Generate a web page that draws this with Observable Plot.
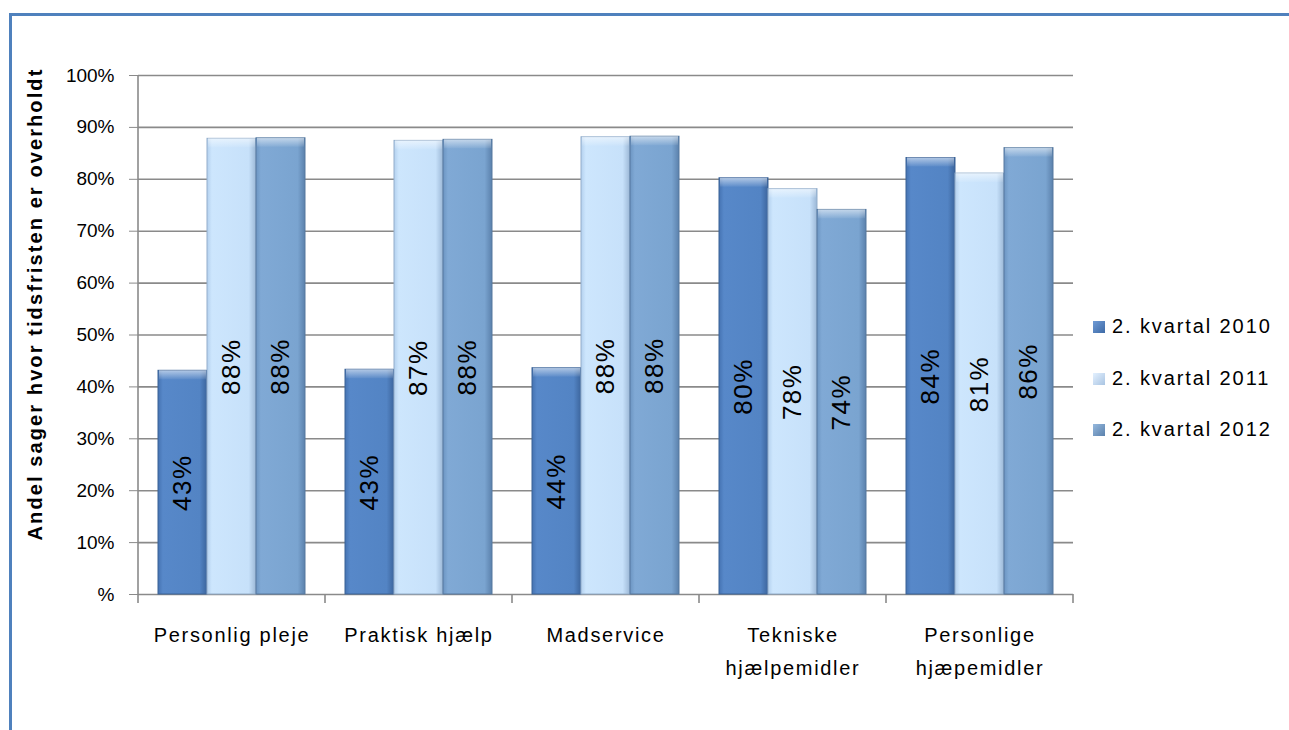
<!DOCTYPE html>
<html><head><meta charset="utf-8">
<script src="https://cdn.jsdelivr.net/npm/d3@7"></script>
<script src="https://cdn.jsdelivr.net/npm/@observablehq/plot@0.6"></script>
<style>
body{margin:0;background:#fff;font-family:"Liberation Sans",Arial,sans-serif;}
#wrap{position:relative;width:1289px;height:730px;overflow:hidden;background:#fff;}
#border{position:absolute;left:9px;top:13px;width:1400px;height:900px;border-left:3px solid #4F81BD;border-top:3px solid #4F81BD;box-sizing:border-box;}
#chart{position:absolute;left:0;top:0;}
#ylabel{position:absolute;left:35px;top:304px;transform:translate(-50%,-50%) rotate(-90deg);white-space:nowrap;font-weight:bold;font-size:20px;letter-spacing:2.1px;color:#000;}
#legend{position:absolute;left:1093px;top:0;}
.li{position:absolute;left:0;white-space:nowrap;font-size:20px;letter-spacing:1.9px;display:flex;align-items:center;}
.sw{width:12px;height:12px;margin-right:7px;box-sizing:border-box;}
.catlab text{letter-spacing:1.7px;}
.barlab text{letter-spacing:1.5px;}
</style>
</head><body>
<svg width="0" height="0" style="position:absolute">
<defs>
<linearGradient id="g2010" x1="0" x2="1" y1="0" y2="0">
<stop offset="0" stop-color="#4573B2"/><stop offset="0.1" stop-color="#5788C9"/><stop offset="0.85" stop-color="#5384C4"/><stop offset="1" stop-color="#3C659D"/>
</linearGradient>
<linearGradient id="g2011" x1="0" x2="1" y1="0" y2="0">
<stop offset="0" stop-color="#B3D0EE"/><stop offset="0.1" stop-color="#CDE6FD"/><stop offset="0.85" stop-color="#C7E1FA"/><stop offset="1" stop-color="#9BB7D6"/>
</linearGradient>
<linearGradient id="g2012" x1="0" x2="1" y1="0" y2="0">
<stop offset="0" stop-color="#6C95C2"/><stop offset="0.1" stop-color="#80A9D5"/><stop offset="0.85" stop-color="#7AA4D0"/><stop offset="1" stop-color="#5B81AC"/>
</linearGradient>
<linearGradient id="cap" x1="0" x2="0" y1="0" y2="1">
<stop offset="0" stop-color="#ffffff" stop-opacity="0.55"/><stop offset="1" stop-color="#ffffff" stop-opacity="0.05"/>
</linearGradient>
</defs>
</svg>
<div id="wrap">
<div id="border"></div>
<div id="chart"></div>
<div id="ylabel">Andel sager hvor tidsfristen er overholdt</div>
<div id="legend"></div>
</div>
<script>
const categories = ["Personlig pleje", "Praktisk hjælp", "Madservice", "Tekniske\nhjælpemidler", "Personlige\nhjæpemidler"];
const series = ["2. kvartal 2010", "2. kvartal 2011", "2. kvartal 2012"];
const v2010 = [43.1, 43.3, 43.6, 80.2, 84.1];
const v2011 = [87.8, 87.4, 88.1, 78.1, 81.1];
const v2012 = [87.9, 87.6, 88.2, 74.1, 86.0];
const yTicks = [0, 10, 20, 30, 40, 50, 60, 70, 80, 90, 100];
const seriesFill = ["url(#g2010)", "url(#g2011)", "url(#g2012)"];
const seriesStroke = ["#3A6296", "#93AECB", "#56799F"];
const legendSwatch = ["linear-gradient(135deg,#6F9BD6,#3E6AA6)", "linear-gradient(135deg,#E4F1FF,#A9C4E2)", "linear-gradient(135deg,#96B9DE,#5B81AC)"];

const allValues = [v2010, v2011, v2012];
const data = [];
categories.forEach((c, i) => {
  series.forEach((s, j) => data.push({category: c, series: s, value: allValues[j][i], si: j}));
});

const font = '"Liberation Sans", Arial, sans-serif';
const chart = Plot.plot({
  width: 1289,
  height: 730,
  marginLeft: 137,
  marginRight: 216,
  marginTop: 75,
  marginBottom: 136,
  style: {fontFamily: font, background: "transparent", color: "#000"},
  fx: {domain: categories, padding: 0, axis: null},
  x: {domain: series, paddingInner: 0, paddingOuter: 0.383, axis: null},
  y: {domain: [0, 100], axis: null},
  marks: [
    Plot.gridY(yTicks.filter(d => d > 0), {stroke: "#8a8a8a", strokeOpacity: 1, strokeWidth: 1.6}),
    Plot.ruleY([0], {stroke: "#8a8a8a", strokeWidth: 1.6}),
    ...series.map((s, j) => Plot.barY(data.filter(d => d.si === j), {
      fx: "category", x: "series", y: "value",
      fill: seriesFill[j], stroke: seriesStroke[j], strokeWidth: 1
    })),
    Plot.barY(data, {
      fx: "category", x: "series", y1: "value", y2: "value",
      insetBottom: -9, insetLeft: 1, insetRight: 1, fill: "url(#cap)"
    }),
    Plot.text(data, {
      fx: "category", x: "series", y: d => d.value / 2,
      text: d => Math.round(d.value) + "%",
      rotate: -90, fontSize: 26, fill: "#000", className: "barlab"
    }),
    Plot.text(categories, {
      fx: d => d, text: d => d, frameAnchor: "bottom", lineAnchor: "top",
      dy: 24, fontSize: 20, lineHeight: 1.65, fill: "#000", className: "catlab"
    }),
    Plot.axisY({
      ticks: yTicks, tickFormat: d => d === 0 ? "%" : d + "%",
      tickSize: 9, tickPadding: 15, fontSize: 19, stroke: "#8a8a8a", label: null
    })
  ]
});
document.getElementById("chart").appendChild(chart);

// Axis line and category boundary ticks from Plot's own scales
const fx = chart.scale("fx");
const y = chart.scale("y");
const svg = d3.select(chart);
const edges = categories.map(c => fx.apply(c)).concat([fx.apply(categories[categories.length - 1]) + fx.bandwidth]);
const y0 = y.apply(0), y1 = y.apply(100);
const g = svg.append("g").attr("stroke", "#8a8a8a").attr("stroke-width", 1.6);
g.append("line").attr("x1", edges[0]).attr("x2", edges[0]).attr("y1", y1).attr("y2", y0);
edges.forEach(x => g.append("line").attr("x1", x).attr("x2", x).attr("y1", y0).attr("y2", y0 + 9));

// Legend
const legendY = [327, 379, 430];
const legend = document.getElementById("legend");
series.forEach((s, j) => {
  const item = document.createElement("div");
  item.className = "li";
  item.style.top = (legendY[j] - 12) + "px";
  item.innerHTML = `<div class="sw" style="background:${legendSwatch[j]}"></div><span>${s}</span>`;
  legend.appendChild(item);
});
</script>
</body></html>
